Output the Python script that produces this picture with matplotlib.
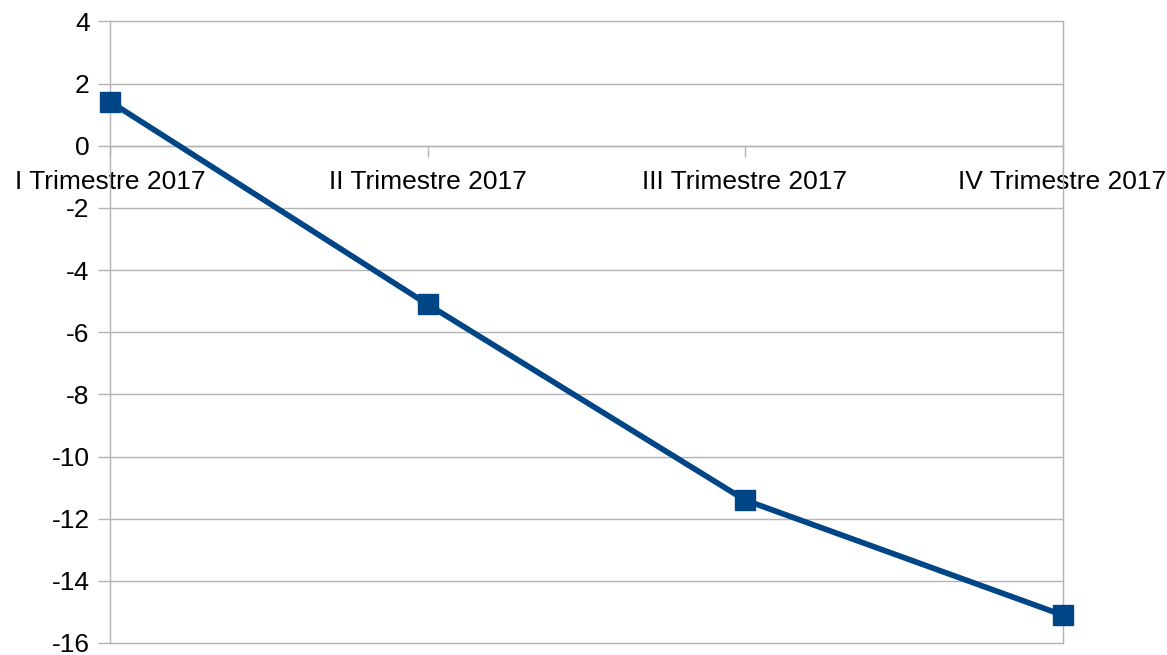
import matplotlib
matplotlib.use("Agg")
import matplotlib.pyplot as plt

categories = ["I Trimestre 2017", "II Trimestre 2017", "III Trimestre 2017", "IV Trimestre 2017"]
values = [1.42, -5.10, -11.40, -15.10]
yticks = [4, 2, 0, -2, -4, -6, -8, -10, -12, -14, -16]

plt.rcParams['font.family'] = ['Liberation Sans', 'DejaVu Sans']

fig = plt.figure(figsize=(11.67, 6.55), dpi=100)
ax = fig.add_axes([110/1167, 1-643/655, (1062.5-110)/1167, (643-21.5)/655])

grid_c = '#b3b3b3'
x = list(range(len(categories)))
ax.plot(x, values, color='#004586', linewidth=4.1, marker='s', markersize=14.5,
        clip_on=False, zorder=5)

ax.set_xlim(0, len(categories)-1)
ax.set_ylim(-16, 4)
ax.set_yticks(yticks)
ax.set_yticklabels([str(v) for v in yticks])
ax.set_xticks(x)
ax.set_xticklabels(categories)

ax.yaxis.grid(True, color=grid_c, linewidth=1.0)
ax.set_axisbelow(True)
for gl in ax.get_ygridlines():
    gl.set_clip_on(False)

for s in ['top']:
    ax.spines[s].set_visible(False)
for s in ['left', 'right', 'bottom']:
    ax.spines[s].set_color(grid_c)
    ax.spines[s].set_linewidth(1.0)
ax.spines['bottom'].set_position(('data', 0))

ax.tick_params(axis='y', direction='out', length=8.6, color=grid_c, width=1.0,
               labelsize=19, pad=6, labelcolor='black')
ax.tick_params(axis='x', direction='out', length=8, color=grid_c, width=1.0,
               labelsize=19, pad=9.5, labelcolor='black')

fig.savefig('out.png', dpi=100)
